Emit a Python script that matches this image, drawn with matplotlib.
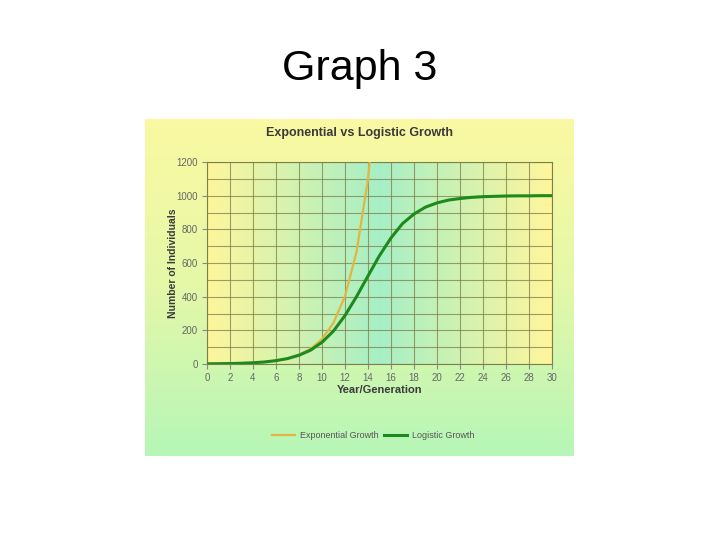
import numpy as np
import matplotlib
matplotlib.use("Agg")
import matplotlib.pyplot as plt
from matplotlib.colors import LinearSegmentedColormap

plt.rcParams['font.family'] = ['Liberation Sans', 'DejaVu Sans']

# ---- data ----
years_exp = [0, 1, 2, 3, 4, 5, 6, 7, 8, 9, 10, 11, 12, 13, 14, 15]
exponential = [1, 1.6, 2.7, 4.5, 7.4, 12, 20, 33, 55, 90, 148, 245, 403, 665, 1097, 1808]
years_log = list(range(0, 31))
logistic = [1, 1.6, 2.7, 4.5, 7.3, 12, 20, 32, 52, 82, 129, 196, 288, 400, 523, 644,
            749, 834, 891, 932, 957, 974, 983, 990, 994, 996, 998, 999, 999, 1000, 1000]
x_ticks = list(range(0, 31, 2))
y_ticks = list(range(0, 1201, 200))

fig = plt.figure(figsize=(7.2, 5.4), dpi=100)
fig.patch.set_facecolor('white')

W, H = 720, 540
def frac(x0, y0, x1, y1):
    return [x0 / W, 1 - y1 / H, (x1 - x0) / W, (y1 - y0) / H]

# outer panel with vertical gradient
bg = fig.add_axes(frac(145, 119, 574, 456), zorder=0)
cm_v = LinearSegmentedColormap.from_list('v', ['#fbf9a2', '#e4f8a8', '#b6f6b8'])
grad = np.linspace(0, 1, 256).reshape(-1, 1)
bg.imshow(grad, aspect='auto', cmap=cm_v, extent=[0, 1, 1, 0])
bg.set_axis_off()

fig.text(360 / W, 1 - 69 / H, 'Graph 3', ha='center', va='center', fontsize=31, color='black')
fig.text(360 / W, 1 - 133 / H, 'Exponential vs Logistic Growth', ha='center', va='center',
         fontsize=9, fontweight='bold', color='#3a3a3a')

ax = fig.add_axes(frac(207, 162, 552, 364), zorder=1)
cm_h = LinearSegmentedColormap.from_list('h', [(0, '#fff69c'), (0.5, '#a6efc6'), (1, '#fff69c')])
gx = np.linspace(0, 1, 256).reshape(1, -1)
ax.imshow(gx, aspect='auto', cmap=cm_h, extent=[0, 30, 0, 1200], zorder=0)

ax.plot(years_exp, exponential, color='#e2b640', lw=1.6, zorder=3, label='Exponential Growth')
ax.plot(years_log, logistic, color='#1d8a1d', lw=2.2, zorder=4, label='Logistic Growth')

ax.set_xlim(0, 30)
ax.set_ylim(0, 1200)
ax.set_xticks(x_ticks)
ax.set_yticks(y_ticks)
ax.set_yticks(range(100, 1200, 200), minor=True)
ax.grid(True, which='both', color='#7f7f4a', lw=0.8, alpha=0.75, zorder=1)
ax.set_axisbelow(False)
for s in ax.spines.values():
    s.set_color('#7f7f4a')
    s.set_linewidth(0.8)
ax.tick_params(axis='both', which='major', labelsize=7, labelcolor='#666666',
               color='#888888', length=3.5, width=0.8, pad=3)
ax.tick_params(axis='y', which='minor', length=0)
ax.set_xlabel('Year/Generation', fontsize=8, fontweight='bold', color='#3a3a3a', labelpad=1.5)
ax.set_ylabel('Number of Individuals', fontsize=7.5, fontweight='bold', color='#3a3a3a', labelpad=-1)

leg = fig.legend(loc='center', bbox_to_anchor=(373 / W, 1 - 436 / H), ncol=2, frameon=False,
                 fontsize=6.5, handlelength=2.6, columnspacing=0.6, handletextpad=0.5)
for t in leg.get_texts():
    t.set_color('#555555')

fig.savefig('out.png', dpi=100)
